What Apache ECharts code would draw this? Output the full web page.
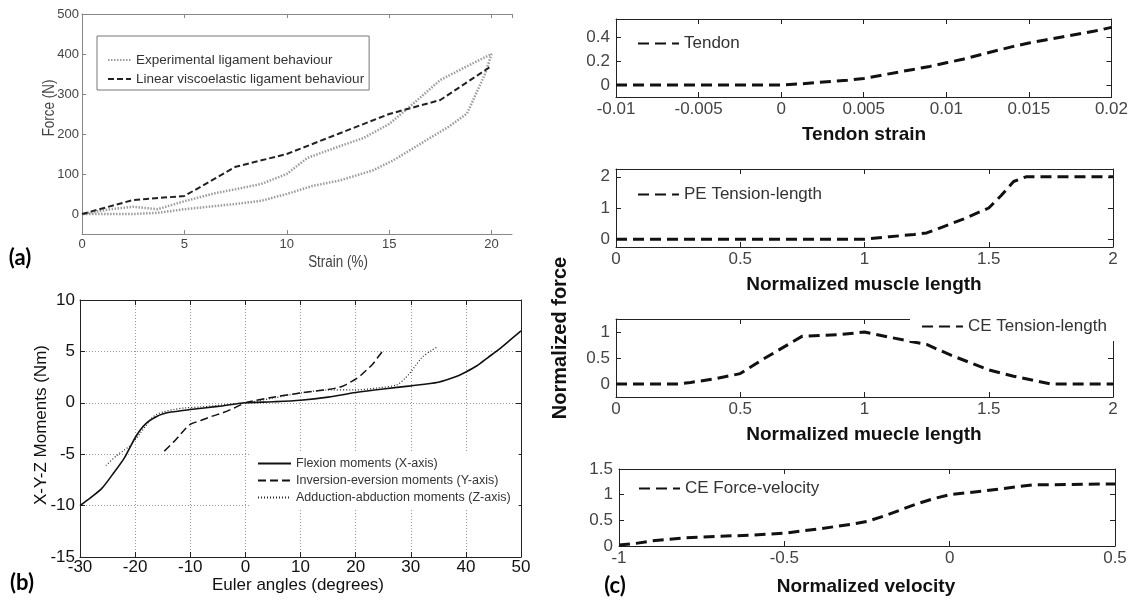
<!DOCTYPE html>
<html><head><meta charset="utf-8">
<script src="https://cdn.jsdelivr.net/npm/echarts@6/dist/echarts.min.js"></script>
<style>html,body{margin:0;padding:0;background:#fff;}#c{width:1131px;height:601px;}</style>
</head><body><div id="c"></div>
<script>
// ---------- Panel (a): ligament force vs strain ----------
const aStrainExp = [0,1.4,2.5,3.7,5,6.5,7.5,8.75,10,11,12.5,13.75,15,16,17.5,18.75,20,19.7,18.8,17.9,16.8,15.2,14.2,12.6,11.25,10,8.75,7.5,5,3.7,2.5,0];
const aForceExp  = [0,12,18,12,32,52,62,75,100,140,168,190,225,268,335,368,400,352,251,218,184,134,109,84,70,50,33,25,12,3,0,0];
const aStrainLin = [0,2.5,5,7.5,10,12.5,15,17.5,20];
const aForceLin  = [0,35,45,118,150,200,250,285,370];
const aNames = ['Experimental ligament behaviour','Linear viscoelastic ligament behaviour'];

// ---------- Panel (b): moments vs Euler angles ----------
const bAngleX  = [-30,-28,-26,-24,-22,-21,-20,-19,-18,-17,-16,-15,-14,-12,-10,-5,0,5,10,15,20,25,30,35,38,40,42,44,46,48,50];
const bMomentX = [-10,-9.2,-8.3,-6.9,-5.4,-4.4,-3.4,-2.6,-2.0,-1.6,-1.3,-1.1,-0.95,-0.8,-0.65,-0.35,0,0.1,0.25,0.55,1.0,1.35,1.65,2.0,2.5,3.0,3.6,4.4,5.2,6.1,7.0];
const bAngleY  = [-14.7,-13,-12,-11,-10,-8,-6,-4,-2,0,2,5,10,15,17,18,19,20,21,22,23,24,25];
const bMomentY = [-4.7,-3.8,-3.2,-2.6,-2.1,-1.7,-1.3,-0.95,-0.5,0,0.25,0.55,0.95,1.3,1.5,1.7,2.0,2.3,2.7,3.2,3.7,4.4,5.1];
const bAngleZ  = [-25.3,-23.5,-22,-21,-20,-19,-18,-17,-16,-15,-13,-11,-8,-5,-2,0,5,10,15,20,24,27.5,29,30,31,32,33.5,34.7];
const bMomentZ = [-6.1,-5.2,-4.6,-4.2,-3.6,-2.9,-2.2,-1.5,-1.1,-0.9,-0.65,-0.5,-0.4,-0.25,-0.1,0,0.45,0.95,1.25,1.25,1.45,1.75,2.4,3.0,3.7,4.4,5.0,5.4];
const bNames = ['Flexion moments (X-axis)','Inversion-eversion moments (Y-axis)','Adduction-abduction moments (Z-axis)'];

// ---------- Panel (c): muscle model curves ----------
const cTendonStrain = [-0.01,-0.005,0,0.001,0.002,0.003,0.004,0.005,0.006,0.007,0.008,0.009,0.01,0.011,0.012,0.013,0.014,0.015,0.016,0.017,0.018,0.019,0.02];
const cTendonForce  = [0,0,0,0.008,0.018,0.03,0.04,0.055,0.08,0.105,0.13,0.155,0.185,0.215,0.25,0.285,0.32,0.35,0.375,0.4,0.425,0.45,0.48];
const cPELength = [0,0.5,1,1.1,1.2,1.25,1.3,1.4,1.5,1.55,1.6,1.65,2];
const cPEForce  = [0,0,0,0.08,0.15,0.2,0.35,0.65,1.0,1.4,1.85,2,2];
const cCELength = [0,0.25,0.3,0.4,0.5,0.6,0.75,0.9,1,1.1,1.25,1.35,1.5,1.6,1.75,2];
const cCEForce  = [0,0,0.03,0.1,0.2,0.5,0.92,0.95,1.0,0.9,0.76,0.55,0.27,0.15,0,0];
const cFVVelocity = [-1,-0.95,-0.9,-0.8,-0.7,-0.6,-0.5,-0.4,-0.3,-0.25,-0.2,-0.15,-0.1,-0.05,0,0.1,0.2,0.25,0.5];
const cFVForce    = [0.02,0.05,0.1,0.16,0.19,0.21,0.25,0.33,0.42,0.48,0.58,0.7,0.82,0.92,1.0,1.07,1.15,1.19,1.21];
const cNames = ['Tendon','PE Tension-length','CE Tension-length','CE Force-velocity'];

const zip = (xs, ys) => xs.map((x, i) => [x, ys[i]]);
const ARIAL = "'Liberation Sans',Arial,sans-serif";
const LABF = "Lato,'Open Sans',sans-serif";
const NOICON = { color: 'rgba(0,0,0,0)', borderColor: 'rgba(0,0,0,0)', borderWidth: 0 };

function ax(gi, pos, min, max, o) {
  o = o || {};
  const main = (pos === 'bottom' || pos === 'left');
  const col = o.color || '#222';
  const a = {
    gridIndex: gi, type: 'value', position: pos, min: min, max: max,
    axisLine: { show: true, onZero: false, lineStyle: { color: col, width: 1 } },
    axisTick: { show: true, inside: true, length: o.tick || 5, lineStyle: { color: col } },
    axisLabel: { show: main, margin: o.margin || 4, fontSize: o.fs || 17, fontFamily: ARIAL,
                 color: o.lc || '#444', showMinLabel: o.smin !== false, showMaxLabel: o.smax !== false,
                 formatter: o.fmt },
    splitLine: { show: !!(o.split && main), lineStyle: { color: '#9a9a9a', type: [1, 2], width: 1 } }
  };
  if (o.interval) a.interval = o.interval;
  if (o.split_n) a.splitNumber = o.split_n;
  return a;
}

const cGrid = (top) => ({ left: 616, top: top, width: 497, height: 78 });
const fmt4 = v => String(+v.toFixed(4));
const cLegend = (name, left, top, extra) => Object.assign({
  data: [name], left: left, top: top, itemWidth: 41, itemHeight: 14, padding: 0, itemStyle: NOICON,
  textStyle: { fontSize: 17, fontFamily: ARIAL, color: '#333' }, selectedMode: false }, extra || {});

const option = {
  animation: false,
  backgroundColor: '#fff',
  grid: [
    { left: 82, top: 14, width: 430, height: 220 },
    { left: 80, top: 300, width: 441, height: 257 },
    cGrid(19), cGrid(169), cGrid(319), { left: 619, top: 469, width: 496, height: 77 }
  ],
  xAxis: [
    ax(0, 'bottom', 0, 21, { interval: 5, smax: false, color: '#888', fs: 13, margin: 4, tick: 4 }),
    ax(0, 'top', 0, 21, { interval: 5, color: '#888', tick: 4 }),
    ax(1, 'bottom', -30, 50, { interval: 10, split: true, color: '#222', fs: 17, lc: '#111', margin: 2 }),
    ax(1, 'top', -30, 50, { interval: 10 }),
    ax(2, 'bottom', -0.01, 0.02, { interval: 0.005, fmt: fmt4 }),
    ax(2, 'top', -0.01, 0.02, { interval: 0.005 }),
    ax(3, 'bottom', 0, 2, { interval: 0.5 }),
    ax(3, 'top', 0, 2, { interval: 0.5 }),
    ax(4, 'bottom', 0, 2, { interval: 0.5 }),
    ax(4, 'top', 0, 2, { interval: 0.5 }),
    ax(5, 'bottom', -1, 0.5, { interval: 0.5 }),
    ax(5, 'top', -1, 0.5, { interval: 0.5 })
  ],
  yAxis: [
    ax(0, 'left', -50, 500, { split_n: 5, smin: false, color: '#888', fs: 13, margin: 3, tick: 4 }),
    ax(1, 'left', -15, 10, { interval: 5, split: true, fs: 17, lc: '#111', margin: 5 }),
    ax(1, 'right', -15, 10, { interval: 5 }),
    ax(2, 'left', -0.1, 0.55, { split_n: 3, smin: false, smax: false, margin: 6, fmt: fmt4 }),
    ax(2, 'right', -0.1, 0.55, { split_n: 3 }),
    ax(3, 'left', -0.25, 2.25, { split_n: 2, smin: false, smax: false, margin: 6 }),
    ax(3, 'right', -0.25, 2.25, { split_n: 2 }),
    ax(4, 'left', -0.25, 1.25, { split_n: 3, smin: false, smax: false, margin: 6 }),
    ax(4, 'right', -0.25, 1.25, { split_n: 3 }),
    ax(5, 'left', 0, 1.5, { interval: 0.5, margin: 6 }),
    ax(5, 'right', 0, 1.5, { interval: 0.5 })
  ],
  legend: [
    { data: aNames, orient: 'vertical', left: 97, top: 36, itemWidth: 23, itemHeight: 12, itemGap: 5,
      padding: [17, 5, 4, 10], borderColor: '#777', borderWidth: 1, backgroundColor: '#fff', itemStyle: NOICON,
      textStyle: { fontSize: 13.5, fontFamily: ARIAL, color: '#333' }, selectedMode: false },
    { data: bNames, orient: 'vertical', left: 251, top: 453, itemWidth: 33, itemHeight: 12, itemGap: 4,
      padding: [4, 8, 4, 6], backgroundColor: '#fff', itemStyle: NOICON,
      textStyle: { fontSize: 12.5, fontFamily: ARIAL, color: '#333' }, selectedMode: false },
    cLegend(cNames[0], 637, 35),
    cLegend(cNames[1], 637, 186),
    cLegend(cNames[2], 910, 310, { padding: [8, 10, 6, 11], backgroundColor: '#fff' }),
    cLegend(cNames[3], 638, 480)
  ],
  series: [
    { name: aNames[0], type: 'line', xAxisIndex: 0, yAxisIndex: 0, symbol: 'none', data: zip(aStrainExp, aForceExp),
      itemStyle: { color: '#9c9c9c' }, lineStyle: { color: '#9c9c9c', width: 2.5, type: [1.5, 1.5] } },
    { name: aNames[1], type: 'line', xAxisIndex: 0, yAxisIndex: 0, symbol: 'none', data: zip(aStrainLin, aForceLin),
      itemStyle: { color: '#222' }, lineStyle: { color: '#222', width: 2, type: [6, 3] } },
    { name: bNames[0], type: 'line', xAxisIndex: 2, yAxisIndex: 1, symbol: 'none', smooth: 0.3, data: zip(bAngleX, bMomentX),
      itemStyle: { color: '#111' }, lineStyle: { color: '#111', width: 1.6 } },
    { name: bNames[1], type: 'line', xAxisIndex: 2, yAxisIndex: 1, symbol: 'none', smooth: 0.3, data: zip(bAngleY, bMomentY),
      itemStyle: { color: '#111' }, lineStyle: { color: '#111', width: 1.5, type: [8, 4] } },
    { name: bNames[2], type: 'line', xAxisIndex: 2, yAxisIndex: 1, symbol: 'none', smooth: 0.3, data: zip(bAngleZ, bMomentZ),
      itemStyle: { color: '#222' }, lineStyle: { color: '#222', width: 1.2, type: [1, 2] } },
    { name: cNames[0], type: 'line', xAxisIndex: 4, yAxisIndex: 3, symbol: 'none', data: zip(cTendonStrain, cTendonForce),
      itemStyle: { color: '#111' }, lineStyle: { color: '#111', width: 3, type: [11, 6] } },
    { name: cNames[1], type: 'line', xAxisIndex: 6, yAxisIndex: 5, symbol: 'none', data: zip(cPELength, cPEForce),
      itemStyle: { color: '#111' }, lineStyle: { color: '#111', width: 3, type: [11, 6] } },
    { name: cNames[2], type: 'line', xAxisIndex: 8, yAxisIndex: 7, symbol: 'none', data: zip(cCELength, cCEForce),
      itemStyle: { color: '#111' }, lineStyle: { color: '#111', width: 3, type: [11, 6] } },
    { name: cNames[3], type: 'line', xAxisIndex: 10, yAxisIndex: 9, symbol: 'none', data: zip(cFVVelocity, cFVForce),
      itemStyle: { color: '#111' }, lineStyle: { color: '#111', width: 3, type: [11, 6] } }
  ],
  graphic: [
    { type: 'text', x: 20, y: 258, style: { text: '(a)', font: 'bold 22px ' + LABF, fill: '#000', textAlign: 'center', textVerticalAlign: 'middle' } },
    { type: 'text', x: 22, y: 583, style: { text: '(b)', font: 'bold 22px ' + LABF, fill: '#000', textAlign: 'center', textVerticalAlign: 'middle' } },
    { type: 'text', x: 615, y: 586, style: { text: '(c)', font: 'bold 22px ' + LABF, fill: '#000', textAlign: 'center', textVerticalAlign: 'middle' } },
    { type: 'text', x: 50, y: 108, rotation: Math.PI / 2, scaleX: 0.84, style: { text: 'Force (N)', font: '16px ' + ARIAL, fill: '#444', textAlign: 'center', textVerticalAlign: 'middle' } },
    { type: 'text', x: 338, y: 263, scaleX: 0.84, style: { text: 'Strain (%)', font: '16px ' + ARIAL, fill: '#444', textAlign: 'center', textVerticalAlign: 'middle' } },
    { type: 'text', x: 41, y: 425, rotation: Math.PI / 2, style: { text: 'X-Y-Z Moments (Nm)', font: '17px ' + ARIAL, fill: '#111', textAlign: 'center', textVerticalAlign: 'middle' } },
    { type: 'text', x: 298, y: 585, style: { text: 'Euler angles (degrees)', font: '17px ' + ARIAL, fill: '#111', textAlign: 'center', textVerticalAlign: 'middle' } },
    { type: 'text', x: 864, y: 135, style: { text: 'Tendon strain', font: 'bold 19px ' + ARIAL, fill: '#111', textAlign: 'center', textVerticalAlign: 'middle' } },
    { type: 'text', x: 864, y: 285, style: { text: 'Normalized muscle length', font: 'bold 19px ' + ARIAL, fill: '#111', textAlign: 'center', textVerticalAlign: 'middle' } },
    { type: 'text', x: 864, y: 435, style: { text: 'Normalized muecle length', font: 'bold 19px ' + ARIAL, fill: '#111', textAlign: 'center', textVerticalAlign: 'middle' } },
    { type: 'text', x: 866, y: 587, style: { text: 'Normalized velocity', font: 'bold 19px ' + ARIAL, fill: '#111', textAlign: 'center', textVerticalAlign: 'middle' } },
    { type: 'text', x: 560, y: 338, rotation: Math.PI / 2, style: { text: 'Normalized force', font: 'bold 20px ' + ARIAL, fill: '#111', textAlign: 'center', textVerticalAlign: 'middle' } }
  ]
};

const chart = echarts.init(document.getElementById('c'), null, { renderer: 'canvas' });
chart.setOption(option);
</script>
</body></html>
